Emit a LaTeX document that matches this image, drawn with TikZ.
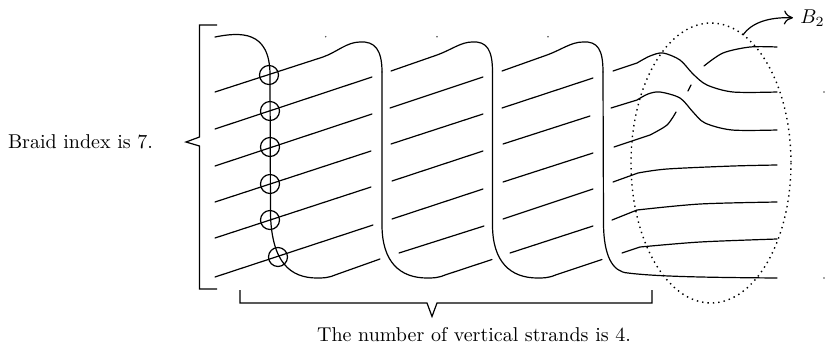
\documentclass[tikz,border=0pt]{standalone}
\usepackage{tikz}
\usetikzlibrary{arrows.meta}

\begin{document}
\begin{tikzpicture}[
    x=0.5pt,y=-0.5pt,
    strand/.style={line width=0.6pt,line cap=round},
    crossing/.style={line width=0.6pt},
    bracket/.style={line width=0.6pt,line join=miter},
    speck/.style={fill=black!70},
]
\useasboundingbox (0,0) rectangle (825,344);

% Left brace and lower brace
\draw[bracket] (217,25) -- (199.5,25) -- (199.5,137) -- (186,142) -- (199.5,146)
    -- (199.5,289) -- (217,289);
\draw[bracket] (240,290) -- (240,303) -- (427,303) -- (432,316.5) -- (437,303)
    -- (652,303) -- (652,290);

% Slanted strands, columns 1 to 3
\foreach \a/\b/\c/\d in {
    215/129/372/77, 215/166/372/114, 215/202/371/151,
    215/238/371/187, 215/277/373/225,
    390/108/483/77, 391/144/483/114, 392/181/483/151,
    392/219/483/189, 399/253/484/226,
    502/108/593/78, 503/144/590/116, 503/182/593/153,
    503/219/593/189, 510/253/593/226} {
    \draw[strand] (\a,\b) -- (\c,\d);
}

% Strand over the top and down, column 1
\draw[strand] (215,37) .. controls (240,32) and (270,30) .. (270,75)
    -- (270.5,215) .. controls (272,262) and (290,278) .. (317,278)
    .. controls (323,278) and (328,278) .. (335,275) -- (380,259);

% Humps of columns 1 to 3
\foreach \a/\b/\c/\d/\e/\f in {
    215/92/323/57/360/382,
    391/71/437/55/472/492.5,
    502/71/547/55/583/603} {
    \draw[strand] (\a,\b) -- (\c,\d)
        .. controls (\c+14,\d-5) and (\c+24,42) .. (\e,42)
        .. controls (\e+15,41) and (\f,50) .. (\f,72);
}

% Strands down and back up, columns 2 and 3
\foreach \a/\b in {382/492, 492.5/602} {
    \draw[strand] (\a,72) -- (\a,225)
        .. controls (\a,262) and (\a+18,278) .. (\a+45,278)
        .. controls (\a+51,278) and (\a+56,278) .. (\a+63,275) -- (\b,259.5);
}

% Long strand out of column 3 to the right
\draw[strand] (603,72) -- (603.5,225) .. controls (604,255) and (612,272) .. (628,273)
    .. controls (660,277) and (720,277.5) .. (777,278);

% Column 4 with the braid box
\draw[strand] (613,71) -- plot[smooth,tension=0.5] coordinates {
    (637,63) (650,56) (663,53) (680,60) (693,74) (707,85) (733,92) (777,92) };
\draw[strand] (611,108) -- plot[smooth,tension=0.5] coordinates {
    (637,100) (648,94) (660,92) (680,98) (693,112) (705,123) (732,130) (777,130) };
\draw[strand] (614,147) -- plot[smooth,tension=0.5] coordinates {
    (650,135) (667,125) (676,112) };
\draw[strand] (691,85) -- (688,91);
\draw[strand] plot[smooth,tension=0.5] coordinates {
    (704,66) (723,53) (750,47) (777,47) };
\draw[strand] (613,182) -- plot[smooth,tension=0.5] coordinates {
    (638,173) (667,169) (733,166) (777,165) };
\draw[strand] (612,220) -- plot[smooth,tension=0.5] coordinates {
    (637,210) (700,204) (777,202) };
\draw[strand] (622,253) -- plot[smooth,tension=0.5] coordinates {
    (640,247) (700,242) (777,239) };

% Crossing circles
\foreach \a/\b in {269/75, 270/111, 270/147, 270/184, 270/220, 278/257} {
    \draw[crossing] (\a,\b) circle (9.5);
}

% Dotted ellipse
\draw[line width=0.7pt,dotted] (711,163) ellipse (80 and 140);

% Specks
\foreach \a/\b in {325.7/36.7, 437/36.7, 548/36.7, 824/92, 824/278} {
    \fill[speck] (\a,\b) circle (0.8);
}

% Labels
\node (braid) at (80.5,142) {Braid index is 7.};
\node (count) at (474,335) {The number of vertical strands is 4.};
\node[anchor=west,inner sep=0pt] (btwo) at (800,18) {$B_2$};
\coordinate (bstart) at (743,35);
\draw[-{To[length=4.5pt,width=7pt]},line width=0.6pt,shorten >=3.5pt] (bstart)
    .. controls (752,22) and (770,17) .. (btwo.west);
\end{tikzpicture}
\end{document}
